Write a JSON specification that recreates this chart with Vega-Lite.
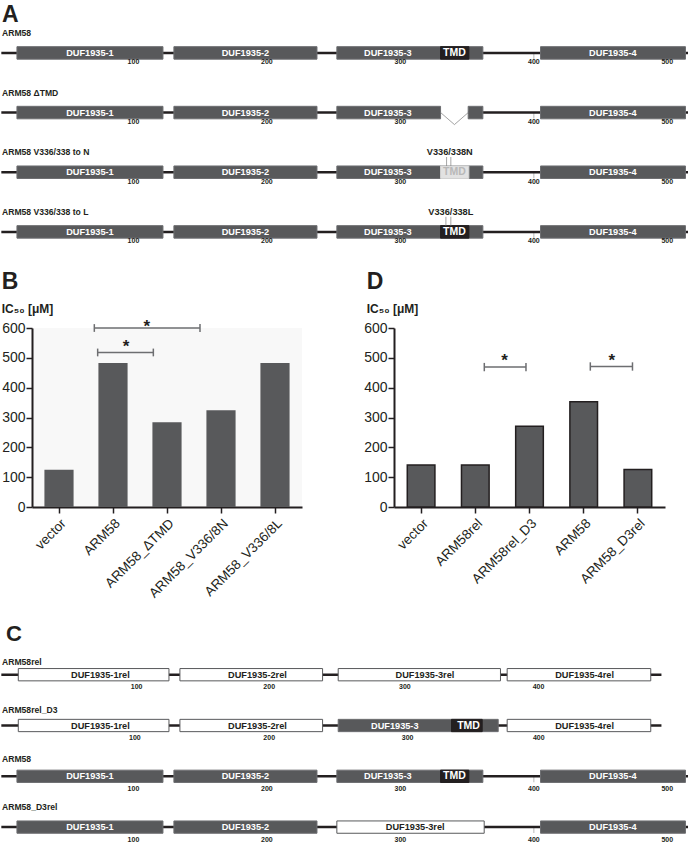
{
  "$schema": "https://vega.github.io/schema/vega-lite/v6.json",
  "padding": {"top": 3, "left": 0, "right": 0, "bottom": 0},
  "spacing": 23,
  "config": {
    "view": {"stroke": null},
    "font": "Liberation Sans",
    "title": {"font": "Liberation Sans", "fontWeight": "bold", "color": "#231f20", "subtitleFont": "Liberation Sans", "subtitleFontWeight": "bold", "subtitleColor": "#231f20", "subtitleFontSize": 12},
    "axis": {"labelFont": "Liberation Sans", "grid": false, "labelOverlap": false, "labelColor": "#231f20", "tickColor": "#231f20", "domainColor": "#231f20", "tickWidth": 1.5, "domainWidth": 2, "tickSize": 6},
    "axisY": {"tickCount": 7, "labelFontSize": 14, "labelPadding": 1, "labelOverlap": false},
    "axisX": {"labelAngle": -45, "labelFontSize": 13.5, "labelPadding": 3}
  },
  "datasets": {
    "aRows": [{"row": "ARM58"}, {"row": "ARM58 ΔTMD"}, {"row": "ARM58 V336/338 to N"}, {"row": "ARM58 V336/338 to L"}],
    "aLines": [
      {"row": "ARM58", "start": 1, "end": 515.5},
      {"row": "ARM58 ΔTMD", "start": 1, "end": 330.1},
      {"row": "ARM58 ΔTMD", "start": 350.8, "end": 515.5},
      {"row": "ARM58 V336/338 to N", "start": 1, "end": 515.5},
      {"row": "ARM58 V336/338 to L", "start": 1, "end": 515.5}
    ],
    "aBoxes": [
      {"row": "ARM58", "start": 12.7, "end": 122.1, "label": "DUF1935-1", "lx": 67.4, "kind": "grey"},
      {"row": "ARM58", "start": 130.3, "end": 237.5, "label": "DUF1935-2", "lx": 183.9, "kind": "grey"},
      {"row": "ARM58", "start": 252.4, "end": 361.8, "label": "DUF1935-3", "lx": 290.6, "kind": "grey"},
      {"row": "ARM58", "start": 330.1, "end": 351.3, "label": "TMD", "lx": 340.5, "kind": "tmd"},
      {"row": "ARM58", "start": 405, "end": 513.6, "label": "DUF1935-4", "lx": 459.2, "kind": "grey"},
      {"row": "ARM58 ΔTMD", "start": 12.7, "end": 122.1, "label": "DUF1935-1", "lx": 67.4, "kind": "grey"},
      {"row": "ARM58 ΔTMD", "start": 130.3, "end": 237.5, "label": "DUF1935-2", "lx": 183.9, "kind": "grey"},
      {"row": "ARM58 ΔTMD", "start": 252.4, "end": 330.1, "label": "DUF1935-3", "lx": 290.6, "kind": "grey"},
      {"row": "ARM58 ΔTMD", "start": 350.8, "end": 361.8, "label": "", "lx": 356.3, "kind": "grey"},
      {"row": "ARM58 ΔTMD", "start": 405, "end": 513.6, "label": "DUF1935-4", "lx": 459.2, "kind": "grey"},
      {"row": "ARM58 V336/338 to N", "start": 12.7, "end": 122.1, "label": "DUF1935-1", "lx": 67.4, "kind": "grey"},
      {"row": "ARM58 V336/338 to N", "start": 130.3, "end": 237.5, "label": "DUF1935-2", "lx": 183.9, "kind": "grey"},
      {"row": "ARM58 V336/338 to N", "start": 252.4, "end": 361.8, "label": "DUF1935-3", "lx": 290.6, "kind": "grey"},
      {"row": "ARM58 V336/338 to N", "start": 330.1, "end": 351.3, "label": "TMD", "lx": 340.5, "kind": "tmdN"},
      {"row": "ARM58 V336/338 to N", "start": 405, "end": 513.6, "label": "DUF1935-4", "lx": 459.2, "kind": "grey"},
      {"row": "ARM58 V336/338 to L", "start": 12.7, "end": 122.1, "label": "DUF1935-1", "lx": 67.4, "kind": "grey"},
      {"row": "ARM58 V336/338 to L", "start": 130.3, "end": 237.5, "label": "DUF1935-2", "lx": 183.9, "kind": "grey"},
      {"row": "ARM58 V336/338 to L", "start": 252.4, "end": 361.8, "label": "DUF1935-3", "lx": 290.6, "kind": "grey"},
      {"row": "ARM58 V336/338 to L", "start": 330.1, "end": 351.3, "label": "TMD", "lx": 340.5, "kind": "tmd"},
      {"row": "ARM58 V336/338 to L", "start": 405, "end": 513.6, "label": "DUF1935-4", "lx": 459.2, "kind": "grey"}
    ],
    "aTicks": [
      {"row": "ARM58", "pos": 100, "label": "100"}, {"row": "ARM58", "pos": 200, "label": "200"}, {"row": "ARM58", "pos": 300, "label": "300"}, {"row": "ARM58", "pos": 400, "label": "400"}, {"row": "ARM58", "pos": 500, "label": "500"},
      {"row": "ARM58 ΔTMD", "pos": 100, "label": "100"}, {"row": "ARM58 ΔTMD", "pos": 200, "label": "200"}, {"row": "ARM58 ΔTMD", "pos": 300, "label": "300"}, {"row": "ARM58 ΔTMD", "pos": 400, "label": "400"}, {"row": "ARM58 ΔTMD", "pos": 500, "label": "500"},
      {"row": "ARM58 V336/338 to N", "pos": 100, "label": "100"}, {"row": "ARM58 V336/338 to N", "pos": 200, "label": "200"}, {"row": "ARM58 V336/338 to N", "pos": 300, "label": "300"}, {"row": "ARM58 V336/338 to N", "pos": 400, "label": "400"}, {"row": "ARM58 V336/338 to N", "pos": 500, "label": "500"},
      {"row": "ARM58 V336/338 to L", "pos": 100, "label": "100"}, {"row": "ARM58 V336/338 to L", "pos": 200, "label": "200"}, {"row": "ARM58 V336/338 to L", "pos": 300, "label": "300"}, {"row": "ARM58 V336/338 to L", "pos": 400, "label": "400"}, {"row": "ARM58 V336/338 to L", "pos": 500, "label": "500"}
    ],
    "aMut": [
      {"row": "ARM58 V336/338 to N", "pos": 334.6}, {"row": "ARM58 V336/338 to N", "pos": 337.8},
      {"row": "ARM58 V336/338 to L", "pos": 334.1}, {"row": "ARM58 V336/338 to L", "pos": 337.8}
    ],
    "aMutLab": [
      {"row": "ARM58 V336/338 to N", "pos": 337.0, "label": "V336/338N"},
      {"row": "ARM58 V336/338 to L", "pos": 337.8, "label": "V336/338L"}
    ],
    "aV": [{"row": "ARM58 ΔTMD", "pos": 340.5}],
    "cRows": [{"row": "ARM58rel"}, {"row": "ARM58rel_D3"}, {"row": "ARM58"}, {"row": "ARM58_D3rel"}],
    "cLines": [
      {"row": "ARM58rel", "start": 1, "end": 495.6},
      {"row": "ARM58rel_D3", "start": 1, "end": 495.6},
      {"row": "ARM58", "start": 1, "end": 515.5},
      {"row": "ARM58_D3rel", "start": 1, "end": 515.5}
    ],
    "cBoxes": [
      {"row": "ARM58rel", "start": 13.7, "end": 126.6, "label": "DUF1935-1rel", "lx": 75.2, "kind": "rel"},
      {"row": "ARM58rel", "start": 134.8, "end": 241.7, "label": "DUF1935-2rel", "lx": 192.9, "kind": "rel"},
      {"row": "ARM58rel", "start": 253.4, "end": 375.0, "label": "DUF1935-3rel", "lx": 318.4, "kind": "rel"},
      {"row": "ARM58rel", "start": 380.0, "end": 487.6, "label": "DUF1935-4rel", "lx": 438.0, "kind": "rel"},
      {"row": "ARM58rel_D3", "start": 13.7, "end": 126.6, "label": "DUF1935-1rel", "lx": 75.2, "kind": "rel"},
      {"row": "ARM58rel_D3", "start": 134.8, "end": 241.7, "label": "DUF1935-2rel", "lx": 192.9, "kind": "rel"},
      {"row": "ARM58rel_D3", "start": 253.4, "end": 373.3, "label": "DUF1935-3", "lx": 295.8, "kind": "grey"},
      {"row": "ARM58rel_D3", "start": 338.3, "end": 361.3, "label": "TMD", "lx": 351.1, "kind": "tmd"},
      {"row": "ARM58rel_D3", "start": 380.0, "end": 487.6, "label": "DUF1935-4rel", "lx": 438.0, "kind": "rel"},
      {"row": "ARM58", "start": 12.7, "end": 122.1, "label": "DUF1935-1", "lx": 67.4, "kind": "grey"},
      {"row": "ARM58", "start": 130.3, "end": 237.5, "label": "DUF1935-2", "lx": 183.9, "kind": "grey"},
      {"row": "ARM58", "start": 252.4, "end": 361.8, "label": "DUF1935-3", "lx": 290.6, "kind": "grey"},
      {"row": "ARM58", "start": 330.1, "end": 351.3, "label": "TMD", "lx": 340.5, "kind": "tmd"},
      {"row": "ARM58", "start": 405, "end": 513.6, "label": "DUF1935-4", "lx": 459.2, "kind": "grey"},
      {"row": "ARM58_D3rel", "start": 12.7, "end": 122.1, "label": "DUF1935-1", "lx": 67.4, "kind": "grey"},
      {"row": "ARM58_D3rel", "start": 130.3, "end": 237.5, "label": "DUF1935-2", "lx": 183.9, "kind": "grey"},
      {"row": "ARM58_D3rel", "start": 252.4, "end": 362.8, "label": "DUF1935-3rel", "lx": 311.1, "kind": "rel"},
      {"row": "ARM58_D3rel", "start": 405, "end": 513.6, "label": "DUF1935-4", "lx": 459.2, "kind": "grey"}
    ],
    "cTicks": [
      {"row": "ARM58rel", "pos": 102.4, "label": "100"}, {"row": "ARM58rel", "pos": 201.7, "label": "200"}, {"row": "ARM58rel", "pos": 303.4, "label": "300"}, {"row": "ARM58rel", "pos": 403.5, "label": "400"},
      {"row": "ARM58rel_D3", "pos": 101.1, "label": "100"}, {"row": "ARM58rel_D3", "pos": 201.7, "label": "200"}, {"row": "ARM58rel_D3", "pos": 305.4, "label": "300"}, {"row": "ARM58rel_D3", "pos": 403.7, "label": "400"},
      {"row": "ARM58", "pos": 100, "label": "100"}, {"row": "ARM58", "pos": 200, "label": "200"}, {"row": "ARM58", "pos": 300, "label": "300"}, {"row": "ARM58", "pos": 400, "label": "400"}, {"row": "ARM58", "pos": 500, "label": "500"},
      {"row": "ARM58_D3rel", "pos": 100, "label": "100"}, {"row": "ARM58_D3rel", "pos": 200, "label": "200"}, {"row": "ARM58_D3rel", "pos": 300, "label": "300"}, {"row": "ARM58_D3rel", "pos": 400, "label": "400"}, {"row": "ARM58_D3rel", "pos": 500, "label": "500"}
    ],
    "bBars": [
      {"name": "vector", "ic50": 125}, {"name": "ARM58", "ic50": 483}, {"name": "ARM58_ΔTMD", "ic50": 284}, {"name": "ARM58_V336/8N", "ic50": 324}, {"name": "ARM58_V336/8L", "ic50": 483}
    ],
    "bBr": [
      {"x1": 1.154, "x2": 3.111, "y": 600, "lo": 587, "hi": 613, "sx": 2.124, "sy": 620},
      {"x1": 1.216, "x2": 2.247, "y": 518, "lo": 505, "hi": 531, "sx": 1.741, "sy": 550}
    ],
    "dBars": [
      {"name": "vector", "ic50": 141}, {"name": "ARM58rel", "ic50": 141}, {"name": "ARM58rel_D3", "ic50": 271}, {"name": "ARM58", "ic50": 353}, {"name": "ARM58_D3rel", "ic50": 126}
    ],
    "dBr": [
      {"x1": 1.666, "x2": 2.435, "y": 469, "lo": 455, "hi": 483, "sx": 2.04, "sy": 503},
      {"x1": 3.622, "x2": 4.4, "y": 471, "lo": 457, "hi": 485, "sx": 4.018, "sy": 503}
    ]
  },
  "vconcat": [
    {
      "spacing": 23,
      "vconcat": [
        {
          "width": 690,
          "height": 208.8,
          "title": {"text": "A", "fontSize": 23, "offset": 2.4, "dx": 2, "anchor": "start", "frame": "group"},
          "layer": [
            {"data": {"name": "aTicks"}, "mark": {"type": "tick", "orient": "vertical", "size": 6, "thickness": 1, "color": "#9a9a9a", "yOffset": 3},
             "encoding": {"x": {"field": "pos", "type": "quantitative", "scale": {"domain": [0, 517], "nice": false, "zero": false}, "axis": null},
                          "y": {"field": "row", "type": "nominal", "scale": {"type": "band", "domain": ["ARM58", "ARM58 ΔTMD", "ARM58 V336/338 to N", "ARM58 V336/338 to L"], "paddingInner": 0.5, "paddingOuter": 0}, "axis": null}}},
            {"data": {"name": "aLines"}, "mark": {"type": "rule", "strokeWidth": 2.5, "color": "#231f20"},
             "encoding": {"x": {"field": "start", "type": "quantitative"}, "x2": {"field": "end"}, "y": {"field": "row", "type": "nominal"}}},
            {"data": {"name": "aBoxes"}, "mark": {"type": "bar", "height": 12.5, "strokeWidth": 1},
             "encoding": {"x": {"field": "start", "type": "quantitative"}, "x2": {"field": "end"}, "y": {"field": "row", "type": "nominal"},
                          "fill": {"field": "kind", "type": "nominal", "scale": {"domain": ["grey", "tmd", "tmdN", "rel"], "range": ["#58595b", "#231f20", "#e2e2e2", "#ffffff"]}, "legend": null},
                          "stroke": {"field": "kind", "type": "nominal", "scale": {"domain": ["grey", "tmd", "tmdN", "rel"], "range": ["#6d6e71", "#231f20", "#d2d2d2", "#58595b"]}, "legend": null}}},
            {"data": {"name": "aV"}, "mark": {"type": "point", "shape": "M -1 0 L 0 0.87 L 1 0", "filled": false, "size": 762, "strokeWidth": 0.8, "color": "#8a8a8a", "opacity": 1},
             "encoding": {"x": {"field": "pos", "type": "quantitative"}, "y": {"field": "row", "type": "nominal"}}},
            {"data": {"name": "aMut"}, "mark": {"type": "tick", "orient": "vertical", "size": 9, "thickness": 1, "color": "#808080", "yOffset": -10.7},
             "encoding": {"x": {"field": "pos", "type": "quantitative"}, "y": {"field": "row", "type": "nominal"}}},
            {"data": {"name": "aBoxes"}, "transform": [{"filter": "datum.label != 'TMD'"}], "mark": {"type": "text", "fontSize": 9.2, "fontWeight": "bold", "baseline": "middle"},
             "encoding": {"x": {"field": "lx", "type": "quantitative"}, "y": {"field": "row", "type": "nominal"}, "text": {"field": "label"},
                          "color": {"field": "kind", "type": "nominal", "scale": {"domain": ["grey", "tmd", "tmdN", "rel"], "range": ["#ffffff", "#ffffff", "#b8b8b8", "#231f20"]}, "legend": null}}},
            {"data": {"name": "aBoxes"}, "transform": [{"filter": "datum.label == 'TMD'"}], "mark": {"type": "text", "fontSize": 10.5, "fontWeight": "bold", "baseline": "middle"},
             "encoding": {"x": {"field": "lx", "type": "quantitative"}, "y": {"field": "row", "type": "nominal"}, "text": {"field": "label"},
                          "color": {"field": "kind", "type": "nominal", "legend": null}}},
            {"data": {"name": "aRows"}, "mark": {"type": "text", "fontSize": 8.6, "fontWeight": "bold", "align": "left", "baseline": "middle", "dy": -20, "dx": 2, "color": "#231f20"},
             "encoding": {"x": {"datum": 0, "type": "quantitative"}, "y": {"field": "row", "type": "nominal"}, "text": {"field": "row"}}},
            {"data": {"name": "aTicks"}, "mark": {"type": "text", "fontSize": 7, "fontWeight": "bold", "baseline": "middle", "dy": 9.5, "color": "#231f20"},
             "encoding": {"x": {"field": "pos", "type": "quantitative"}, "y": {"field": "row", "type": "nominal"}, "text": {"field": "label"}}},
            {"data": {"name": "aMutLab"}, "mark": {"type": "text", "fontSize": 9.2, "fontWeight": "bold", "baseline": "middle", "dy": -20, "color": "#231f20"},
             "encoding": {"x": {"field": "pos", "type": "quantitative"}, "y": {"field": "row", "type": "nominal"}, "text": {"field": "label"}}}
          ]
        },
        {
          "bounds": "flush",
          "spacing": 10,
          "hconcat": [
            {"width": 22, "height": 179, "data": {"values": []}, "mark": "point"},
            {
              "width": 270,
              "height": 179,
              "view": {"fill": "#f8f8f8", "stroke": null},
              "title": {"text": "B", "subtitle": "IC₅₀ [μM]", "fontSize": 23, "anchor": "start", "frame": "bounds", "offset": 2.6, "subtitlePadding": 10},
              "layer": [
                {"data": {"name": "bBars"}, "mark": {"type": "bar", "color": "#58595b"},
                 "encoding": {
                   "x": {"field": "name", "type": "nominal", "sort": null, "scale": {"paddingInner": 0.46, "paddingOuter": 0.23}, "axis": {"title": null}},
                   "y": {"field": "ic50", "type": "quantitative", "scale": {"domain": [0, 600], "nice": false}, "axis": {"title": null, "values": [0, 100, 200, 300, 400, 500, 600]}}}},
                {"data": {"name": "bBr"},
                 "layer": [
                   {"mark": {"type": "rule", "color": "#6d6e71", "strokeWidth": 1.5},
                    "encoding": {"x": {"field": "x1", "type": "quantitative", "scale": {"domain": [0, 5], "nice": false, "zero": false}, "axis": null}, "x2": {"field": "x2"}, "y": {"field": "y", "type": "quantitative", "axis": {"title": null, "values": [0, 100, 200, 300, 400, 500, 600]}}}},
                   {"mark": {"type": "rule", "color": "#6d6e71", "strokeWidth": 1.5},
                    "encoding": {"x": {"field": "x1", "type": "quantitative"}, "y": {"field": "lo", "type": "quantitative", "axis": {"title": null, "values": [0, 100, 200, 300, 400, 500, 600]}}, "y2": {"field": "hi"}}},
                   {"mark": {"type": "rule", "color": "#6d6e71", "strokeWidth": 1.5},
                    "encoding": {"x": {"field": "x2", "type": "quantitative"}, "y": {"field": "lo", "type": "quantitative", "axis": {"title": null, "values": [0, 100, 200, 300, 400, 500, 600]}}, "y2": {"field": "hi"}}},
                   {"mark": {"type": "text", "text": "*", "fontSize": 17, "fontWeight": "bold", "baseline": "alphabetic", "dy": 9.5, "color": "#231f20"},
                    "encoding": {"x": {"field": "sx", "type": "quantitative"}, "y": {"field": "sy", "type": "quantitative", "axis": {"title": null, "values": [0, 100, 200, 300, 400, 500, 600]}}}}
                 ]}
              ],
              "resolve": {"scale": {"x": "independent"}}
            },
            {"width": 72, "height": 179, "data": {"values": []}, "mark": "point"},
            {
              "width": 271,
              "height": 179,
              "title": {"text": "D", "subtitle": "IC₅₀ [μM]", "fontSize": 23, "anchor": "start", "frame": "bounds", "offset": 6, "dx": 3, "subtitlePadding": 10},
              "layer": [
                {"data": {"name": "dBars"}, "mark": {"type": "bar", "color": "#58595b", "stroke": "#231f20", "strokeWidth": 1.5},
                 "encoding": {
                   "x": {"field": "name", "type": "nominal", "sort": null, "scale": {"paddingInner": 0.49, "paddingOuter": 0.245}, "axis": {"title": null}},
                   "y": {"field": "ic50", "type": "quantitative", "scale": {"domain": [0, 600], "nice": false}, "axis": {"title": null, "values": [0, 100, 200, 300, 400, 500, 600]}}}},
                {"data": {"name": "dBr"},
                 "layer": [
                   {"mark": {"type": "rule", "color": "#6d6e71", "strokeWidth": 1.5},
                    "encoding": {"x": {"field": "x1", "type": "quantitative", "scale": {"domain": [0, 5], "nice": false, "zero": false}, "axis": null}, "x2": {"field": "x2"}, "y": {"field": "y", "type": "quantitative", "axis": {"title": null, "values": [0, 100, 200, 300, 400, 500, 600]}}}},
                   {"mark": {"type": "rule", "color": "#6d6e71", "strokeWidth": 1.5},
                    "encoding": {"x": {"field": "x1", "type": "quantitative"}, "y": {"field": "lo", "type": "quantitative", "axis": {"title": null, "values": [0, 100, 200, 300, 400, 500, 600]}}, "y2": {"field": "hi"}}},
                   {"mark": {"type": "rule", "color": "#6d6e71", "strokeWidth": 1.5},
                    "encoding": {"x": {"field": "x2", "type": "quantitative"}, "y": {"field": "lo", "type": "quantitative", "axis": {"title": null, "values": [0, 100, 200, 300, 400, 500, 600]}}, "y2": {"field": "hi"}}},
                   {"mark": {"type": "text", "text": "*", "fontSize": 17, "fontWeight": "bold", "baseline": "alphabetic", "dy": 9.5, "color": "#231f20"},
                    "encoding": {"x": {"field": "sx", "type": "quantitative"}, "y": {"field": "sy", "type": "quantitative", "axis": {"title": null, "values": [0, 100, 200, 300, 400, 500, 600]}}}}
                 ]}
              ],
              "resolve": {"scale": {"x": "independent"}}
            }
          ]
        }
      ]
    },
    {
      "width": 690,
      "height": 177.8,
      "title": {"text": "C", "fontSize": 22, "offset": 12, "dx": 6, "anchor": "start", "frame": "group"},
      "layer": [
        {
          "layer": [
            {"data": {"name": "cTicks"}, "mark": {"type": "tick", "orient": "vertical", "size": 6, "thickness": 1, "color": "#9a9a9a", "yOffset": 3},
             "encoding": {"x": {"field": "pos", "type": "quantitative", "scale": {"domain": [0, 517], "nice": false, "zero": false}, "axis": null},
                          "y": {"field": "row", "type": "nominal", "scale": {"type": "band", "domain": ["ARM58rel", "ARM58rel_D3", "ARM58", "ARM58_D3rel"], "paddingInner": 0.5, "paddingOuter": 0}, "axis": null}}},
            {"data": {"name": "cLines"}, "mark": {"type": "rule", "strokeWidth": 2.5, "color": "#231f20"},
             "encoding": {"x": {"field": "start", "type": "quantitative"}, "x2": {"field": "end"}, "y": {"field": "row", "type": "nominal"}}},
            {"data": {"name": "cBoxes"}, "mark": {"type": "bar", "height": 12.3, "strokeWidth": 1},
             "encoding": {"x": {"field": "start", "type": "quantitative"}, "x2": {"field": "end"}, "y": {"field": "row", "type": "nominal"},
                          "fill": {"field": "kind", "type": "nominal", "scale": {"domain": ["grey", "tmd", "tmdN", "rel"], "range": ["#58595b", "#231f20", "#e2e2e2", "#ffffff"]}, "legend": null},
                          "stroke": {"field": "kind", "type": "nominal", "scale": {"domain": ["grey", "tmd", "tmdN", "rel"], "range": ["#6d6e71", "#231f20", "#d2d2d2", "#58595b"]}, "legend": null}}},
            {"data": {"name": "cBoxes"}, "transform": [{"filter": "datum.label != 'TMD'"}], "mark": {"type": "text", "fontSize": 9.2, "fontWeight": "bold", "baseline": "middle"},
             "encoding": {"x": {"field": "lx", "type": "quantitative"}, "y": {"field": "row", "type": "nominal"}, "text": {"field": "label"},
                          "color": {"field": "kind", "type": "nominal", "scale": {"domain": ["grey", "tmd", "tmdN", "rel"], "range": ["#ffffff", "#ffffff", "#b8b8b8", "#231f20"]}, "legend": null}}},
            {"data": {"name": "cBoxes"}, "transform": [{"filter": "datum.label == 'TMD'"}], "mark": {"type": "text", "fontSize": 10.5, "fontWeight": "bold", "baseline": "middle"},
             "encoding": {"x": {"field": "lx", "type": "quantitative"}, "y": {"field": "row", "type": "nominal"}, "text": {"field": "label"},
                          "color": {"field": "kind", "type": "nominal", "legend": null}}},
            {"data": {"name": "cTicks"}, "mark": {"type": "text", "fontSize": 7, "fontWeight": "bold", "baseline": "middle", "dy": 12.5, "color": "#231f20"},
             "encoding": {"x": {"field": "pos", "type": "quantitative"}, "y": {"field": "row", "type": "nominal"}, "text": {"field": "label"}}}
          ]
        },
        {"data": {"name": "cRows"}, "mark": {"type": "text", "fontSize": 8.6, "fontWeight": "bold", "align": "left", "baseline": "middle", "dy": -16.3, "dx": 2, "color": "#231f20"},
         "encoding": {"x": {"datum": 0, "type": "quantitative"},
                      "y": {"field": "row", "type": "nominal", "scale": {"type": "band", "domain": ["ARM58rel", "ARM58rel_D3", "ARM58", "ARM58_D3rel"], "paddingInner": 0.5, "paddingOuter": 0.0894}, "axis": null},
                      "text": {"field": "row"}}}
      ],
      "resolve": {"scale": {"y": "independent"}}
    }
  ]
}
